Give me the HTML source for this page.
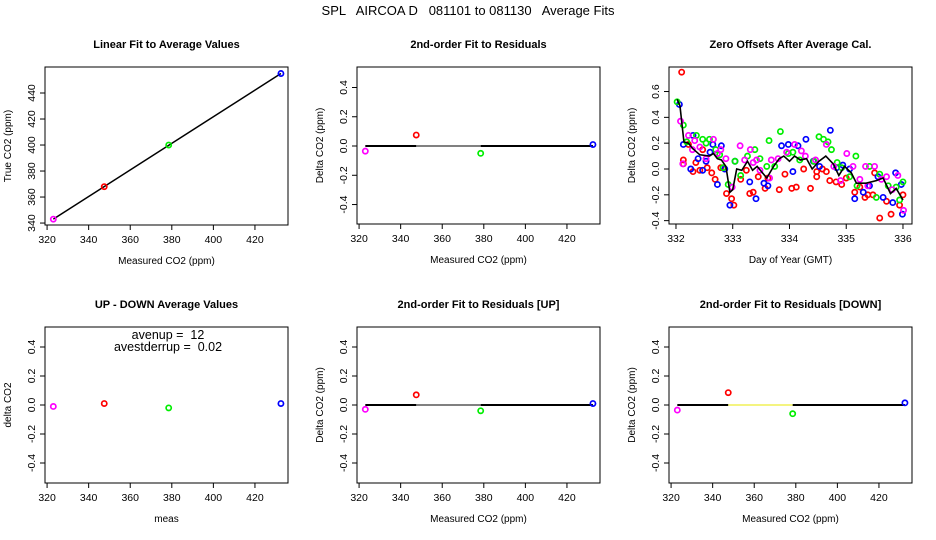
<!DOCTYPE html>
<html><head><meta charset="utf-8"><style>
html,body{margin:0;padding:0;background:#fff;}
svg{display:block;font-family:"Liberation Sans",sans-serif;}
svg text{white-space:pre;}
</style></head><body>
<svg id="c" width="936" height="540" viewBox="0 0 936 540">
<text x="468" y="15" font-size="13" text-anchor="middle" xml:space="preserve">SPL   AIRCOA D   081101 to 081130   Average Fits</text>
</svg>
<script>
// Calibration data
const measVals = [323, 347.5, 378.5, 432.5];
const trueVals = [343, 368, 400, 455];
const colors = ['#ff00ff', '#ff0000', '#00ee00', '#0000ff'];
const resid2 = [-0.035, 0.075, -0.05, 0.01];
const updown = [-0.01, 0.01, -0.02, 0.01];
const residUp = [-0.03, 0.07, -0.04, 0.01];
const residDown = [-0.035, 0.085, -0.06, 0.015];
const xTicksMeas = [320, 340, 360, 380, 400, 420];
const yTicksLin = [340, 360, 380, 400, 420, 440];
const yTicksDelta = [-0.4, -0.2, 0.0, 0.2, 0.4];
const yTicksZero = [-0.4, -0.2, 0.0, 0.2, 0.4, 0.6];
const xTicksDay = [332, 333, 334, 335, 336];
// Zero offsets panel series (day, value)
const redDays = [332.10,332.13,332.13,332.22,332.30,332.35,332.42,332.47,332.55,332.63,332.69,332.79,332.89,332.98,333.02,333.14,333.24,333.30,333.36,333.45,333.57,333.62,333.82,333.92,334.04,334.12,334.25,334.37,334.48,334.48,334.58,334.65,334.71,334.82,334.92,335.00,335.15,335.24,335.33,335.38,335.47,335.50,335.59,335.71,335.79,335.94,336.00];
const redVals = [0.75,0.07,0.04,0.19,-0.02,0.05,-0.01,0.15,0.01,-0.03,-0.08,0.01,-0.19,-0.23,-0.28,-0.08,-0.01,-0.19,-0.18,-0.06,-0.15,-0.07,-0.16,-0.04,-0.15,-0.14,0.0,-0.15,-0.02,-0.06,0.0,-0.02,-0.09,-0.10,-0.12,-0.07,-0.18,-0.14,-0.22,-0.20,-0.20,-0.03,-0.38,-0.25,-0.35,-0.28,-0.20];
const blueDays = [332.06,332.13,332.26,332.30,332.39,332.47,332.53,332.60,332.65,332.73,332.80,332.86,332.95,333.04,333.30,333.41,333.55,333.62,333.86,333.98,334.06,334.15,334.29,334.42,334.53,334.72,334.83,334.94,335.06,335.15,335.30,335.41,335.56,335.65,335.82,335.87,335.97,335.99];
const blueVals = [0.50,0.19,0.0,0.26,0.08,-0.01,0.06,0.13,0.19,-0.12,0.18,0.0,-0.28,0.06,-0.10,-0.23,-0.11,-0.13,0.18,0.19,-0.02,0.18,0.23,0.06,0.02,0.30,0.01,0.03,0.0,-0.23,-0.18,-0.13,-0.06,-0.22,-0.26,-0.03,-0.12,-0.35];
const greenDays = [332.02,332.13,332.19,332.36,332.47,332.53,332.59,332.70,332.77,332.83,332.92,333.04,333.14,333.26,333.39,333.48,333.60,333.64,333.74,333.84,333.98,334.06,334.18,334.43,334.52,334.60,334.68,334.74,334.84,334.92,335.06,335.17,335.19,335.41,335.53,335.59,335.74,335.88,335.94,336.00];
const greenVals = [0.52,0.34,0.21,0.26,0.23,0.20,0.23,0.15,0.11,0.01,-0.12,0.06,-0.05,0.10,0.15,0.08,0.02,0.22,0.02,0.29,0.12,0.13,0.07,0.06,0.25,0.23,0.21,0.15,0.05,0.01,-0.06,0.10,-0.13,0.02,-0.22,-0.04,-0.13,-0.14,-0.24,-0.10];
const magDays = [332.08,332.12,332.22,332.29,332.33,332.42,332.53,332.66,332.73,332.79,332.88,332.99,333.13,333.21,333.31,333.36,333.42,333.48,333.65,333.68,333.80,333.95,334.09,334.21,334.28,334.46,334.65,334.78,334.90,335.01,335.12,335.24,335.34,335.38,335.50,335.62,335.71,335.81,335.91,336.01];
const magVals = [0.37,0.04,0.26,0.15,0.22,0.17,0.08,0.23,0.12,0.15,0.08,-0.14,0.18,0.07,0.15,0.05,0.07,-0.01,-0.07,0.07,0.08,0.13,0.19,0.14,0.10,0.07,0.19,0.02,-0.09,0.12,0.02,-0.08,0.02,-0.13,0.02,-0.08,-0.06,-0.16,-0.05,-0.32];
const avgDays = [332.02,332.07,332.14,332.22,332.29,332.42,332.59,332.66,332.73,332.80,332.88,332.95,333.00,333.07,333.16,333.26,333.35,333.43,333.60,333.72,333.82,333.90,334.00,334.09,334.19,334.30,334.40,334.52,334.64,334.77,334.87,334.97,335.09,335.18,335.35,335.53,335.65,335.78,335.88,336.00];
const avgVals = [0.54,0.49,0.21,0.20,0.16,0.11,0.10,0.12,0.08,0.07,0.02,-0.18,-0.16,0.0,-0.01,0.06,-0.01,0.02,-0.07,0.02,0.08,0.10,0.06,0.10,0.07,0.08,0.0,0.06,0.10,0.04,-0.05,0.02,-0.03,-0.11,-0.11,-0.09,-0.07,-0.19,-0.15,-0.24];

const NS='http://www.w3.org/2000/svg';
const svg=document.getElementById('c');
function el(tag,attrs,parent){const e=document.createElementNS(NS,tag);for(const k in attrs)e.setAttribute(k,attrs[k]);(parent||svg).appendChild(e);return e;}
function fmt(v,dec){return dec?v.toFixed(1):String(v);}

function panel(o){
  const g=el('g',{});
  
  
  const L=o.box[0],R=o.box[1],T=o.box[2],B=o.box[3];
  const sx=v=>L+(v-o.xr[0])/(o.xr[1]-o.xr[0])*(R-L);
  const sy=v=>B-(v-o.yr[0])/(o.yr[1]-o.yr[0])*(B-T);
  const t=el('text',{x:(L+R)/2,y:T-19,'font-size':11,'font-weight':'bold','text-anchor':'middle'},g);t.textContent=o.title;
  
  
  const box=el('rect',{x:L,y:T,width:R-L,height:B-T,fill:'none',stroke:'#000','stroke-width':1},g);
  
  
  const xa=el('g',{},g);
  
  
  el('line',{x1:sx(o.xt[0]),x2:sx(o.xt[o.xt.length-1]),y1:B,y2:B,stroke:'#000'},xa);
  o.xt.forEach(v=>{el('line',{x1:sx(v),x2:sx(v),y1:B,y2:B+5,stroke:'#000'},xa);
    const tx=el('text',{x:sx(v),y:B+18,'font-size':10.5,'text-anchor':'middle'},xa);tx.textContent=String(v);
    
    });
  const xl=el('text',{x:(L+R)/2,y:B+39,'font-size':10,'text-anchor':'middle'},g);xl.textContent=o.xlab;
  
  
  const ya=el('g',{},g);
  
  
  el('line',{x1:L,x2:L,y1:sy(o.yt[0]),y2:sy(o.yt[o.yt.length-1]),stroke:'#000'},ya);
  o.yt.forEach(v=>{el('line',{x1:L,x2:L-5,y1:sy(v),y2:sy(v),stroke:'#000'},ya);
    const tx=el('text',{x:0,y:0,'font-size':10.5,'text-anchor':'middle',transform:`translate(${L-10},${sy(v)}) rotate(-90)`},ya);tx.textContent=fmt(v,o.ydec);
    
    });
  const yl=el('text',{x:0,y:0,'font-size':10,'text-anchor':'middle',transform:`translate(${L-34},${(T+B)/2}) rotate(-90)`},g);yl.textContent=o.ylab;
  
  
  return {g,sx,sy};
}
function pts(p,xs,ys,col,name){
  xs.forEach((x,i)=>{const c=el('circle',{cx:p.sx(x),cy:p.sy(ys[i]),r:2.6,fill:'none',stroke:Array.isArray(col)?col[i]:col,'stroke-width':1.7},p.g);
    
    });
}
function zeroLine(p,midCol){
  const a=el('line',{x1:p.sx(measVals[0]),x2:p.sx(measVals[1]),y1:p.sy(0),y2:p.sy(0),stroke:'#000','stroke-width':2},p.g);
  
  
  const b=el('line',{x1:p.sx(measVals[1]),x2:p.sx(measVals[2]),y1:p.sy(0),y2:p.sy(0),stroke:midCol,'stroke-width':1},p.g);
  
  
  const c=el('line',{x1:p.sx(measVals[2]),x2:p.sx(measVals[3]),y1:p.sy(0),y2:p.sy(0),stroke:'#000','stroke-width':2},p.g);
  
  
}
const xrM=[319,435.9];
// Panel 1
const p1=panel({name:'linear-fit-panel',box:[45,288,67,225],xr:xrM,yr:[338.5,460],xt:xTicksMeas,yt:yTicksLin,title:'Linear Fit to Average Values',xlab:'Measured CO2 (ppm)',ylab:'True CO2 (ppm)'});
const fl=el('line',{x1:p1.sx(measVals[0]),y1:p1.sy(trueVals[0]),x2:p1.sx(measVals[3]),y2:p1.sy(trueVals[3]),stroke:'#000','stroke-width':1.5},p1.g);


pts(p1,measVals,trueVals,colors,'calibration-point');
// Panel 2
const p2=panel({name:'residual-fit-panel',box:[357,600,67,224],xr:xrM,yr:[-0.533,0.54],xt:xTicksMeas,yt:yTicksDelta,ydec:true,title:'2nd-order Fit to Residuals',xlab:'Measured CO2 (ppm)',ylab:'Delta CO2 (ppm)'});
zeroLine(p2,'#000');pts(p2,measVals,resid2,colors,'residual-point');
// Panel 3
const p3=panel({name:'zero-offsets-panel',box:[669,912,67,224],xr:[331.877,336.159],yr:[-0.426,0.79],xt:xTicksDay,yt:yTicksZero,ydec:true,title:'Zero Offsets After Average Cal.',xlab:'Day of Year (GMT)',ylab:'Delta CO2 (ppm)'});
pts(p3,redDays,redVals,'#ff0000','offset-point-red');
pts(p3,blueDays,blueVals,'#0000ff','offset-point-blue');
pts(p3,greenDays,greenVals,'#00ee00','offset-point-green');
pts(p3,magDays,magVals,'#ff00ff','offset-point-magenta');
const pl=el('polyline',{points:avgDays.map((d,i)=>p3.sx(d)+','+p3.sy(avgVals[i])).join(' '),fill:'none',stroke:'#000','stroke-width':1.6},p3.g);


// Panel 4
const p4=panel({name:'updown-panel',box:[45,288,327,483],xr:xrM,yr:[-0.538,0.538],xt:xTicksMeas,yt:yTicksDelta,ydec:true,title:'UP - DOWN Average Values',xlab:'meas',ylab:'delta CO2'});
pts(p4,measVals,updown,colors,'updown-point');
const a1=el('text',{x:168,y:339,'font-size':12.5,'text-anchor':'middle'},p4.g);a1.textContent='avenup =  12';


const a2=el('text',{x:168,y:351,'font-size':12.5,'text-anchor':'middle'},p4.g);a2.textContent='avestderrup =  0.02';


// Panel 5
const p5=panel({name:'residual-up-panel',box:[357,600,327,483],xr:xrM,yr:[-0.538,0.538],xt:xTicksMeas,yt:yTicksDelta,ydec:true,title:'2nd-order Fit to Residuals [UP]',xlab:'Measured CO2 (ppm)',ylab:'Delta CO2 (ppm)'});
zeroLine(p5,'#000');pts(p5,measVals,residUp,colors,'residual-up-point');
// Panel 6
const p6=panel({name:'residual-down-panel',box:[669,912,327,483],xr:xrM,yr:[-0.538,0.538],xt:xTicksMeas,yt:yTicksDelta,ydec:true,title:'2nd-order Fit to Residuals [DOWN]',xlab:'Measured CO2 (ppm)',ylab:'Delta CO2 (ppm)'});
zeroLine(p6,'#e8e800');pts(p6,measVals,residDown,colors,'residual-down-point');
</script>
</body></html>
